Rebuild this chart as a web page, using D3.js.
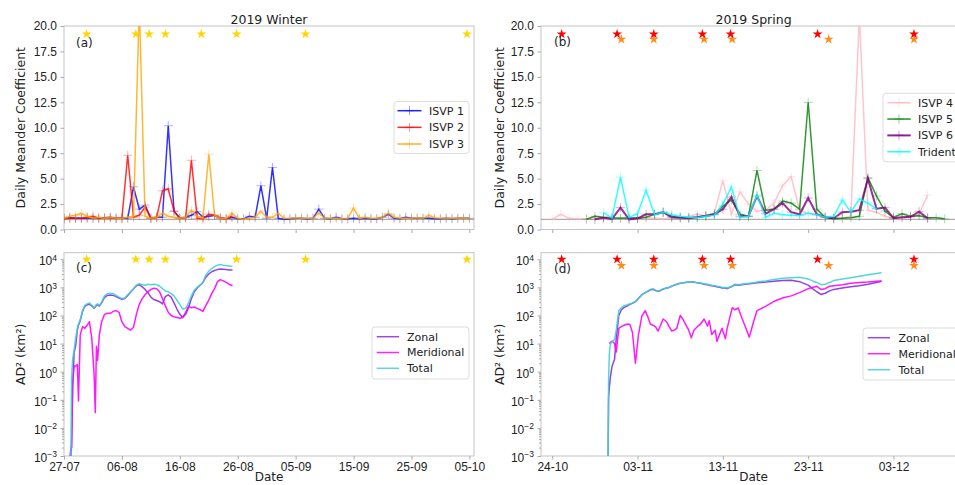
<!DOCTYPE html>
<html>
<head>
<meta charset="utf-8">
<script src="https://cdn.jsdelivr.net/npm/d3@7"></script>
<style>
  body { margin: 0; background: #fff; }
  svg { font-family: 'DejaVu Sans', sans-serif; }
  .axis line { stroke: #aaa; }
  .axis text { fill: #222; font-size: 12px; }
</style>
</head>
<body>
<svg id="chart" width="955" height="485"></svg>
<script>
const DAY_MS = 864e5;
const WINTER_START = Date.UTC(2019, 6, 27);
const SPRING_START = Date.UTC(2019, 9, 24);
const atDay = (start, d) => new Date(start + d * DAY_MS);

// tick dates (dd-mm), every 10 days
const winterTicks = ['2019-07-27', '2019-08-06', '2019-08-16', '2019-08-26',
  '2019-09-05', '2019-09-15', '2019-09-25', '2019-10-05'];
const springTicks = ['2019-10-24', '2019-11-03', '2019-11-13', '2019-11-23',
  '2019-12-03'];

// event times, days after season start
const winterEvents = [3.9, 12.4, 14.7, 17.5, 23.7, 29.8, 41.7, 69.6];
const springEventsRed = [1.1, 7.6, 11.9, 17.6, 20.9, 31.1, 42.4];
const springEventsOrange = [8.1, 11.9, 17.8, 21.1, 32.4, 42.4];

// daily meander coefficient, first value on day `...First`
const isvp1First = 0;
const isvp1 = [1.1, 1.15, 1.1, 1.1, 1.1, 1.1, 1.1, 1.15, 1.2, 1.1,
  1.1, 1.1, 4.2, 2.0, 2.4, 1.1, 1.2, 1.2, 10.2, 1.8,
  1.1, 1.2, 1.4, 1.75, 1.2, 1.3, 1.4, 1.1, 1.05, 1.2,
  1.05, 1.05, 1.3, 1.2, 4.3, 1.1, 6.1, 1.1, 1.0, 1.05,
  1.1, 1.1, 1.05, 1.1, 2.0, 1.1, 1.05, 1.2, 1.05, 1.05,
  1.1, 1.05, 1.1, 1.05, 1.05, 1.2, 1.5, 1.1, 1.05, 1.2,
  1.1, 1.1, 1.1, 1.1, 1.05, 1.05, 1.1, 1.05, 1.1, 1.1, 1.1];
const isvp2First = 0;
const isvp2 = [1.05, 1.1, 1.1, 1.1, 1.2, 1.3, 1.1, 1.1, 1.15, 1.1,
  1.1, 7.3, 1.2, 1.4, 2.2, 1.1, 1.2, 3.8, 4.0, 1.8,
  1.1, 1.15, 6.8, 1.1, 1.05, 1.5, 1.4, 1.15, 1.05, 1.3];
const isvp3First = 0;
const isvp3 = [1.1, 1.3, 1.4, 1.6, 1.3, 1.1, 1.2, 1.1, 1.2, 1.1,
  1.1, 1.2, 1.3, 22, 1.3, 1.1, 1.2, 1.6, 1.3, 1.2,
  1.1, 1.2, 1.9, 1.3, 1.1, 7.4, 1.4, 1.1, 1.05, 1.6,
  1.1, 1.0, 1.1, 1.2, 1.8, 1.2, 1.2, 1.6, 1.1, 1.1,
  1.15, 1.1, 1.1, 1.1, 1.6, 1.1, 1.1, 1.1, 1.05, 1.1,
  2.1, 1.1, 1.2, 1.1, 1.1, 1.2, 1.6, 1.2, 1.1, 1.1,
  1.1, 1.15, 1.1, 1.4, 1.15, 1.1, 1.1, 1.1, 1.1, 1.1, 1.1];
const isvp4First = 0;
const isvp4 = [1.0, 1.5, 1.1, 1.05, 1.05, 1.0, 1.0, 1.1, 1.1, 1.0,
  1.1, 1.05, 1.1, 1.05, 1.1, 1.1, 1.3, 1.5, 1.3, 1.6,
  4.8, 1.5, 3.7, 2.5, 1.8, 1.9, 2.6, 4.3, 5.2, 1.9,
  1.6, 1.4, 1.2, 1.1, 1.1, 1.3, 21, 1.9, 1.7, 1.3,
  1.05, 1.1, 1.2, 1.5, 3.4];
const isvp5First = 4;
const isvp5 = [1.0, 1.3, 1.2, 1.15, 1.1, 1.15, 1.1, 1.2, 1.5, 1.7,
  1.3, 1.2, 1.15, 1.2, 1.3, 1.5, 2.3, 2.9, 1.5, 1.3,
  5.8, 1.9, 2.0, 2.8, 2.6, 2.0, 12.5, 2.0, 1.2, 1.05,
  1.1, 1.15, 1.3, 5.1, 3.3, 1.8, 1.2, 1.55, 1.3, 1.35,
  1.15, 1.15, 1.05];
const isvp6First = 5;
const isvp6 = [1.0, 1.15, 1.05, 2.15, 1.0, 1.1, 1.5, 1.5, 1.7, 1.2,
  1.15, 1.1, 1.2, 1.35, 1.5, 2.0, 3.2, 1.3, 1.3, 3.3,
  1.55, 2.0, 2.6, 1.7, 1.5, 3.1, 1.5, 1.2, 1.1, 1.7,
  1.75, 1.9, 5.0, 2.05, 2.15, 1.1, 1.2, 1.25, 1.75, 1.1];
const tridentFirst = 6;
const trident = [1.65, 1.15, 5.15, 1.2, 1.55, 3.85, 1.45, 1.7, 1.45, 1.3,
  1.2, 1.15, 1.3, 1.4, 2.5, 4.17, 1.2, 1.3, 3.4, 1.2,
  1.6, 1.45, 1.4, 1.35, 1.6, 1.45, 1.2, 1.3, 2.9, 1.7,
  3.0, 2.6, 2.0];

// absolute dispersion AD^2 (km^2)
const adWinterDays = [1.05, 1.2, 1.3, 1.5, 1.75, 2.0, 2.3, 2.5, 2.8, 3.2,
  3.6, 4.0, 4.4, 4.8, 5.2, 5.4, 5.6, 5.8, 6.1, 6.5,
  7.0, 7.5, 8.0, 8.5, 9.0, 9.5, 10.0, 10.5, 11, 11.5,
  12, 12.5, 13, 13.5, 14, 14.5, 15, 15.5, 16, 16.5,
  17, 17.5, 18, 18.5, 19, 19.5, 20, 20.5, 21, 21.5,
  22, 22.5, 23, 23.5, 24, 24.5, 25, 25.5, 26, 26.5,
  27, 27.5, 28, 28.5, 29.1];
const adWinterZonal = [0.001, 0.001, 0.002, 0.3, 5, 8, 30, 45, 65, 140,
  210, 240, 250, 220, 180, 200, 230, 240, 215, 280,
  440, 520, 540, 520, 470, 420, 380, 400, 520, 680,
  880, 1150, 1250, 1050, 850, 650, 450, 370, 340, 310,
  260, 470, 540, 450, 280, 170, 110, 85, 110, 190,
  400, 700, 950, 1200, 1500, 2300, 3000, 3600, 4000, 4300,
  4500, 4400, 4300, 4200, 4200];
const adWinterMeridional = [0.001, 0.002, 0.002, 0.4, 1.6, 1.6, 1.8, 0.09, 20, 40,
  35, 45, 60, 15, 0.8, 0.035, 8, 2.5, 20, 60,
  110, 120, 120, 140, 150, 130, 60, 40, 35, 30,
  38, 110, 250, 400, 550, 700, 850, 930, 900, 700,
  400, 220, 130, 100, 90, 85, 80, 85, 130, 210,
  190, 200, 180, 160, 140, 230, 350, 600, 900, 1600,
  1900, 1700, 1500, 1300, 1150];
const adWinterTotal = [0.001, 0.001, 0.5, 3, 6, 15, 35, 50, 70, 150,
  230, 260, 280, 230, 190, 210, 250, 260, 230, 300,
  500, 600, 620, 600, 520, 450, 400, 420, 550, 700,
  900, 1200, 1350, 1250, 1200, 1300, 1250, 1300, 1250, 1100,
  900, 750, 700, 600, 500, 350, 250, 170, 180, 280,
  500, 800, 1000, 1200, 1500, 2800, 3800, 4700, 5500, 6200,
  6500, 6200, 6000, 5800, 5600];

const adSpringDays = [6.55, 6.6, 6.7, 6.8, 7.0, 7.2, 7.3, 7.5, 7.8, 8.1,
  8.4, 8.8, 9.1, 9.4, 9.75, 10.1, 10.5, 10.9, 11.2, 11.5,
  11.8, 12.1, 12.4, 12.7, 13.0, 13.4, 13.7, 14.0, 14.3, 14.6,
  15.0, 15.3, 15.6, 16.0, 16.3, 16.6, 17.0, 17.4, 17.8, 18.2,
  18.4, 18.7, 19.1, 19.3, 19.7, 19.9, 20.3, 20.5, 21.1, 21.4,
  21.8, 22.2, 22.6, 23.1, 23.6, 24.0, 25.0, 26.0, 27.0, 28.0,
  29.0, 30.0, 30.5, 31.0, 31.5, 32.0, 32.5, 33.0, 34.0, 35.0,
  36.0, 37.0, 38.0, 38.6];
const adSpringZonal = [0.001, 0.12, 0.3, 0.6, 1.5, 2.3, 2.7, 15, 100, 160,
  190, 220, 250, 270, 310, 400, 550, 650, 720, 820,
  850, 780, 720, 780, 870, 950, 1000, 1100, 1200, 1300,
  1400, 1450, 1500, 1550, 1600, 1550, 1450, 1400, 1300, 1250,
  1200, 1150, 1100, 1050, 1000, 950, 950, 900, 1100, 1250,
  1200, 1250, 1300, 1350, 1400, 1450, 1550, 1650, 1750, 1800,
  1600, 1200, 900, 700, 560, 620, 750, 850, 950, 1050,
  1150, 1300, 1500, 1650];
const adSpringMeridional = [null, null, 10, 11, 12, 11, 10, 5, 35, 40,
  45, 50, 48, 25, 2, 20, 95, 150, 90, 50,
  45, 40, 28, 45, 75, 60, 40, 28, 30, 35,
  100, 75, 50, 30, 16, 30, 40, 50, 75, 42,
  65, 21, 30, 12, 25, 35, 15, 35, 190, 160,
  185, 85, 42, 17, 60, 150, 210, 320, 420, 500,
  650, 900, 1000, 1100, 850, 900, 1100, 1150, 1250, 1400,
  1500, 1550, 1650, 1700];
const adSpringTotal = [0.001, 0.5, 5, 9, 12, 13, 14, 30, 150, 190,
  220, 240, 260, 280, 320, 400, 550, 650, 750, 850,
  900, 800, 750, 800, 900, 950, 1000, 1100, 1200, 1300,
  1400, 1450, 1500, 1550, 1600, 1550, 1450, 1400, 1350, 1300,
  1250, 1200, 1150, 1100, 1050, 1000, 1000, 950, 1100, 1300,
  1250, 1300, 1350, 1400, 1450, 1550, 1700, 1900, 2100, 2200,
  2300, 2000, 1700, 1500, 1250, 1300, 1500, 1750, 2000, 2200,
  2500, 2800, 3100, 3300];

const svg = d3.select('#chart');
const defs = svg.append('defs');

const TopRange = [229.5, 26];
const BottomRange = [456, 252.7];

const yMeander = d3.scaleLinear().domain([0, 20]).range(TopRange);
const yAd = d3.scaleLog().domain([1e-3, Math.pow(10, 4.235)]).range(BottomRange);

const xWinter = d3.scaleUtc()
  .domain([atDay(WINTER_START, 0), atDay(WINTER_START, 70.8)])
  .range([64, 474]);
const xSpring = d3.scaleUtc()
  .domain([atDay(SPRING_START, -1.32), atDay(SPRING_START, 48.5)])
  .range([541, 966]);

const plus = (x, y) => `M${x - 4.5},${y}h9M${x},${y - 4.5}v9`;

const addClip = (id, x, y) => {
  const [x0, x1] = x.range();
  const [y1, y0] = y.range();
  defs.append('clipPath').attr('id', id)
    .append('rect')
    .attr('x', x0).attr('y', y0)
    .attr('width', x1 - x0).attr('height', y1 - y0);
};

const drawFrame = (x, y, ticks, showDates) => {
  const [x0, x1] = x.range();
  const [y1, y0] = y.range();
  const g = svg.append('g');
  g.append('rect')
    .attr('x', x0).attr('y', y0)
    .attr('width', x1 - x0).attr('height', y1 - y0)
    .attr('fill', 'none')
    .attr('stroke', '#c4c4c4');
  const xAxis = d3.axisBottom(x)
    .tickValues(ticks.map(t => new Date(t + 'T00:00:00Z')))
    .tickSize(3.5)
    .tickPadding(2.5)
    .tickFormat(showDates ? d3.utcFormat('%d-%m') : '');
  g.append('g')
    .attr('class', 'axis')
    .attr('transform', `translate(0,${y1})`)
    .call(xAxis)
    .call(a => a.select('.domain').remove());
  return g;
};

const drawMeanderAxis = (g, x) => {
  g.append('g')
    .attr('class', 'axis')
    .attr('transform', `translate(${x.range()[0]},0)`)
    .call(d3.axisLeft(yMeander)
      .tickValues(d3.range(0, 20.01, 2.5))
      .tickSize(3.5)
      .tickPadding(3.5)
      .tickFormat(d3.format('.1f')))
    .call(a => a.select('.domain').remove());
};

const drawLogAxis = (g, x) => {
  const majors = d3.range(-3, 5).map(e => Math.pow(10, e));
  const minors = [];
  d3.range(-3, 5).forEach(e => {
    d3.range(2, 10).forEach(m => {
      const v = m * Math.pow(10, e);
      if (v < yAd.domain()[1]) minors.push(v);
    });
  });
  const left = x.range()[0];
  g.append('g')
    .attr('class', 'axis')
    .attr('transform', `translate(${left},0)`)
    .call(d3.axisLeft(yAd).tickValues(minors).tickSize(2).tickFormat(''))
    .call(a => a.select('.domain').remove());
  g.append('g')
    .attr('class', 'axis')
    .attr('transform', `translate(${left},0)`)
    .call(d3.axisLeft(yAd).tickValues(majors).tickSize(3.5).tickPadding(3.5)
      .tickFormat(''))
    .call(a => a.select('.domain').remove())
    .selectAll('.tick text')
    .each(function (d) {
      const e = Math.round(Math.log10(d));
      const t = d3.select(this).attr('dy', '0.45em').text('10');
      t.append('tspan')
        .attr('dy', '-0.55em')
        .attr('font-size', '8.5px')
        .text(e < 0 ? '\u2212' + (-e) : String(e));
    });
};

const drawMeanderSeries = (g, x, start, series, clipId) => {
  const line = d3.line().x(p => x(p[0])).y(p => yMeander(p[1]));
  g.append('line')
    .attr('x1', x.range()[0]).attr('x2', x.range()[1])
    .attr('y1', yMeander(1)).attr('y2', yMeander(1))
    .attr('stroke', '#9a9a9a')
    .attr('stroke-width', 1);
  const layer = g.append('g').attr('clip-path', `url(#${clipId})`);
  series.forEach(s => {
    const pts = s.values.map((v, i) => [atDay(start, s.first + i), v]);
    layer.append('path')
      .attr('d', line(pts))
      .attr('fill', 'none')
      .attr('stroke', s.color)
      .attr('stroke-width', s.width)
      .attr('opacity', 0.8);
    layer.append('path')
      .attr('d', pts.map(p => plus(x(p[0]), yMeander(p[1]))).join(''))
      .attr('stroke', s.color)
      .attr('stroke-width', 1)
      .attr('opacity', 0.3);
  });
};

const drawAdSeries = (g, x, start, days, series, clipId) => {
  const line = d3.line()
    .defined(p => p[1] != null)
    .x(p => x(atDay(start, p[0])))
    .y(p => yAd(p[1]));
  const layer = g.append('g').attr('clip-path', `url(#${clipId})`);
  series.forEach(s => {
    layer.append('path')
      .attr('d', line(days.map((d, i) => [d, s.values[i]])))
      .attr('fill', 'none')
      .attr('stroke', s.color)
      .attr('stroke-width', 1.5)
      .attr('stroke-linejoin', 'round')
      .attr('opacity', 0.9);
  });
};

const drawStars = (g, x, start, days, yPos, color) => {
  g.selectAll(null)
    .data(days)
    .enter().append('path')
    .attr('d', d3.symbol().type(d3.symbolStar).size(30))
    .attr('transform', d => `translate(${x(atDay(start, d))},${yPos})`)
    .attr('fill', color);
};

const drawLegend = (box, items, withMarker) => {
  const g = svg.append('g');
  g.append('rect')
    .attr('x', box.x).attr('y', box.y)
    .attr('width', box.w).attr('height', box.h)
    .attr('rx', 3)
    .attr('fill', '#fff')
    .attr('fill-opacity', 0.85)
    .attr('stroke', '#ddd');
  items.forEach((item, i) => {
    const y = box.row0 + i * box.step;
    g.append('line')
      .attr('x1', box.lineX0).attr('x2', box.lineX1)
      .attr('y1', y).attr('y2', y)
      .attr('stroke', item.color)
      .attr('stroke-width', item.width || 1.5)
      .attr('opacity', 0.85);
    if (withMarker) {
      g.append('path')
        .attr('d', plus((box.lineX0 + box.lineX1) / 2, y))
        .attr('stroke', item.color)
        .attr('opacity', 0.4);
    }
    g.append('text')
      .attr('x', box.textX).attr('y', y)
      .attr('dy', '0.36em')
      .attr('font-size', 11)
      .attr('fill', '#222')
      .text(item.name);
  });
};

const addText = (x, y, text, opts = {}) => svg.append('text')
  .attr('x', x).attr('y', y)
  .attr('text-anchor', opts.anchor || 'middle')
  .attr('font-size', opts.size || 12.5)
  .attr('fill', '#222')
  .attr('transform', opts.rotate ? `rotate(-90,${x},${y})` : null)
  .text(text);

// ---- series tables
const winterMeander = [
  { name: 'ISVP 1', values: isvp1, first: isvp1First, color: '#0000ff', width: 1.5 },
  { name: 'ISVP 2', values: isvp2, first: isvp2First, color: '#ff0000', width: 1.5 },
  { name: 'ISVP 3', values: isvp3, first: isvp3First, color: '#ffa500', width: 1.5 }
];
const springMeander = [
  { name: 'ISVP 4', values: isvp4, first: isvp4First, color: '#ffb6c1', width: 1.5 },
  { name: 'ISVP 5', values: isvp5, first: isvp5First, color: '#008000', width: 1.5 },
  { name: 'ISVP 6', values: isvp6, first: isvp6First, color: '#800080', width: 2 },
  { name: 'Trident', values: trident, first: tridentFirst, color: '#00ffff', width: 1.5 }
];
const adColors = { zonal: '#8a2be2', meridional: '#ff00ff', total: '#3fd2d2' };
const winterAd = [
  { name: 'Zonal', values: adWinterZonal, color: adColors.zonal },
  { name: 'Meridional', values: adWinterMeridional, color: adColors.meridional },
  { name: 'Total', values: adWinterTotal, color: adColors.total }
];
const springAd = [
  { name: 'Zonal', values: adSpringZonal, color: adColors.zonal },
  { name: 'Meridional', values: adSpringMeridional, color: adColors.meridional },
  { name: 'Total', values: adSpringTotal, color: adColors.total }
];

// ---- (a) winter meander
addClip('clip-a', xWinter, yMeander);
const gA = drawFrame(xWinter, yMeander, winterTicks, false);
drawMeanderAxis(gA, xWinter);
drawMeanderSeries(gA, xWinter, WINTER_START, winterMeander, 'clip-a');
drawStars(gA, xWinter, WINTER_START, winterEvents, yMeander(19.2), '#ffd700');

// ---- (b) spring meander
addClip('clip-b', xSpring, yMeander);
const gB = drawFrame(xSpring, yMeander, springTicks, false);
drawMeanderAxis(gB, xSpring);
drawMeanderSeries(gB, xSpring, SPRING_START, springMeander, 'clip-b');
drawStars(gB, xSpring, SPRING_START, springEventsOrange, yMeander(18.7), '#ff8c1a');
drawStars(gB, xSpring, SPRING_START, springEventsRed, yMeander(19.2), '#ff0000');

// ---- (c) winter dispersion
addClip('clip-c', xWinter, yAd);
const gC = drawFrame(xWinter, yAd, winterTicks, true);
drawLogAxis(gC, xWinter);
drawAdSeries(gC, xWinter, WINTER_START, adWinterDays, winterAd, 'clip-c');
drawStars(gC, xWinter, WINTER_START, winterEvents, yAd(1e4), '#ffd700');

// ---- (d) spring dispersion
addClip('clip-d', xSpring, yAd);
const gD = drawFrame(xSpring, yAd, springTicks, true);
drawLogAxis(gD, xSpring);
drawAdSeries(gD, xSpring, SPRING_START, adSpringDays, springAd, 'clip-d');
drawStars(gD, xSpring, SPRING_START, springEventsOrange, yAd(6000), '#ff8c1a');
drawStars(gD, xSpring, SPRING_START, springEventsRed, yAd(1e4), '#ff0000');

// ---- legends
drawLegend({ x: 394, y: 101.5, w: 75, h: 52, row0: 110.7, step: 16.65,
  lineX0: 397.5, lineX1: 421.5, textX: 429 }, winterMeander, true);
drawLegend({ x: 883, y: 93.3, w: 80, h: 68.5, row0: 102.7, step: 16.35,
  lineX0: 887.3, lineX1: 910.7, textX: 918 }, springMeander, true);
drawLegend({ x: 372, y: 327, w: 97, h: 52, row0: 336.7, step: 15.8,
  lineX0: 376.7, lineX1: 399, textX: 407 }, winterAd, false);
drawLegend({ x: 863, y: 328, w: 100, h: 52, row0: 337.7, step: 16,
  lineX0: 867.7, lineX1: 890, textX: 898.5 }, springAd, false);

// ---- texts
addText(269, 23.5, '2019 Winter');
addText(753.5, 23.5, '2019 Spring');
addText(76, 47, '(a)', { anchor: 'start', size: 12 });
addText(554, 46, '(b)', { anchor: 'start', size: 12 });
addText(76, 271.5, '(c)', { anchor: 'start', size: 12 });
addText(554, 272.5, '(d)', { anchor: 'start', size: 12 });
addText(25, 127.7, 'Daily Meander Coefficient', { rotate: true });
addText(504.5, 127.7, 'Daily Meander Coefficient', { rotate: true });
addText(25, 354.4, 'AD\u00b2 (km\u00b2)', { rotate: true });
addText(504.5, 354.4, 'AD\u00b2 (km\u00b2)', { rotate: true });
addText(269, 481, 'Date', { size: 12 });
addText(753.5, 481, 'Date', { size: 12 });
</script>
</body>
</html>
